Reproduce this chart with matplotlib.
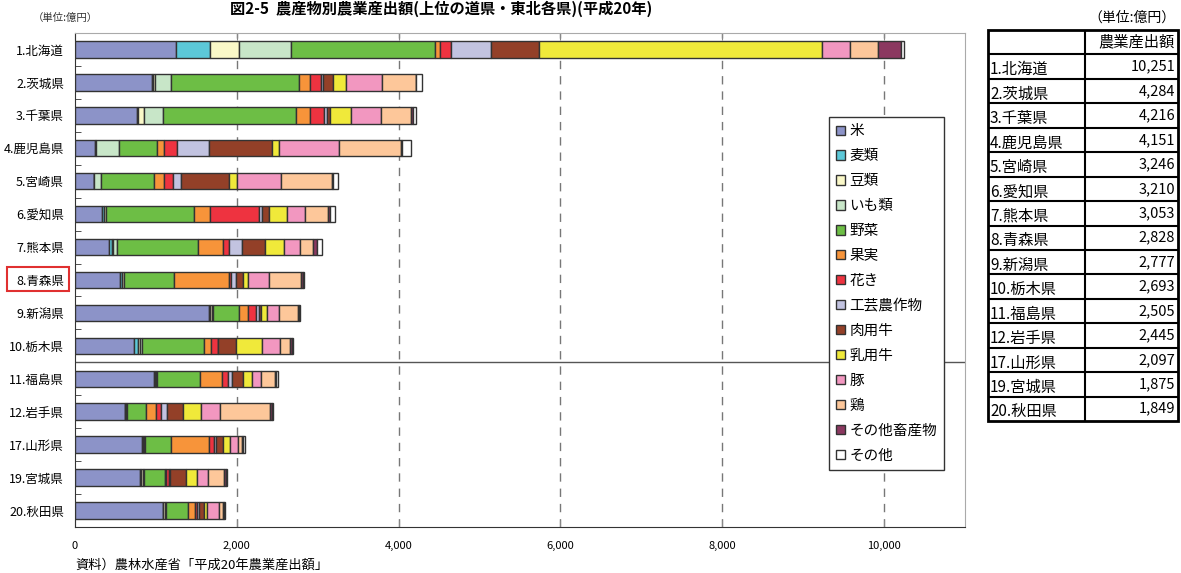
import matplotlib.pyplot as plt
import matplotlib.patches as mpatches
import numpy as np

plt.rcParams['font.family'] = ['Noto Sans CJK JP', 'DejaVu Sans']

# Prefectures (rank.name) and totals, unit: 100 million yen
prefs = ['1.北海道', '2.茨城県', '3.千葉県', '4.鹿児島県', '5.宮崎県',
         '6.愛知県', '7.熊本県', '8.青森県', '9.新潟県', '10.栃木県',
         '11.福島県', '12.岩手県', '17.山形県', '19.宮城県', '20.秋田県']
totals = [10251, 4284, 4216, 4151, 3246, 3210, 3053, 2828, 2777, 2693,
          2505, 2445, 2097, 1875, 1849]

# Output by sector, same order as prefs
kome      = [1251, 946, 769, 253, 229, 331, 426, 562, 1654, 735, 974, 612, 832, 807, 1088]
mugi      = [412, 20, 5, 3, 2, 25, 33, 15, 10, 41, 10, 8, 8, 10, 5]
mame      = [362, 25, 82, 5, 3, 21, 5, 26, 25, 25, 17, 15, 15, 20, 21]
imo       = [639, 194, 227, 288, 83, 5, 49, 5, 14, 24, 15, 10, 10, 11, 15]
yasai     = [1788, 1586, 1650, 462, 663, 1088, 1009, 618, 330, 766, 527, 235, 325, 260, 268]
kajitsu   = [62, 136, 168, 94, 124, 201, 302, 672, 103, 91, 272, 124, 466, 21, 82]
kaki      = [136, 128, 182, 153, 104, 606, 82, 28, 95, 82, 74, 62, 62, 37, 30]
kougei    = [494, 32, 33, 399, 103, 37, 153, 58, 41, 5, 49, 69, 21, 10, 28]
nikuyou   = [588, 116, 41, 775, 593, 87, 288, 94, 30, 227, 136, 206, 90, 198, 53]
nyuuyou   = [3503, 165, 256, 94, 95, 215, 235, 62, 74, 321, 111, 219, 83, 136, 42]
buta      = [346, 441, 371, 742, 544, 230, 198, 260, 143, 222, 108, 226, 106, 131, 143]
niwatori  = [346, 420, 371, 765, 630, 277, 164, 392, 243, 124, 173, 627, 42, 206, 54]
chikusan  = [284, 10, 28, 10, 15, 28, 42, 30, 8, 15, 20, 22, 12, 18, 10]
sonota    = [40, 65, 33, 108, 58, 59, 67, 6, 7, 15, 19, 10, 25, 10, 10]

categories = ['米', '麦類', '豆類', 'いも類', '野菜', '果実', '花き', '工芸農作物',
              '肉用牛', '乳用牛', '豚', '鶏', 'その他畜産物', 'その他']
segments = [kome, mugi, mame, imo, yasai, kajitsu, kaki, kougei,
            nikuyou, nyuuyou, buta, niwatori, chikusan, sonota]
colors = ['#8c93c8', '#5cc8d8', '#faf8c8', '#c8e6c8', '#6dbe45', '#f7943a',
          '#ee3340', '#c2c3e0', '#934028', '#f0e93a', '#f297c0', '#fdc79a',
          '#8b3860', '#ffffff']

W, H = 1181, 573
fig = plt.figure(figsize=(W / 100, H / 100), dpi=100)
ax = fig.add_axes([75 / W, 1 - 527 / H, 890 / W, 494 / H])

y = np.arange(len(prefs))
left = np.zeros(len(prefs))
for vals, color in zip(segments, colors):
    ax.barh(y, vals, left=left, height=0.5, color=color,
            edgecolor='#333333', linewidth=1.0, zorder=3)
    left += np.array(vals)

ax.set_xlim(0, 11000)
ax.set_ylim(len(prefs) - 0.5, -0.5)
ax.set_xticks(np.arange(0, 10001, 2000))
ax.set_xticklabels(['{:,}'.format(v) for v in range(0, 10001, 2000)], fontsize=8)
ax.set_yticks(y)
ax.set_yticklabels(prefs, fontsize=9)
ax.set_yticks(np.arange(-0.5, len(prefs), 1), minor=True)
ax.tick_params(axis='y', which='major', length=0, pad=8)
ax.tick_params(axis='y', which='minor', direction='in', length=4, color='#333333')
ax.tick_params(axis='x', direction='in', top=True, bottom=True, length=5,
               color='#888888', pad=10)

# dashed vertical grid
for xv in range(2000, 10001, 2000):
    ax.axvline(xv, color='#777777', lw=1.0, ls=(0, (6, 5)), zorder=1)

# separator between top 10 and the rest
ax.axhline(9.5, color='#555555', lw=1.0, zorder=2)

ax.spines['left'].set_color('#333333')
ax.spines['bottom'].set_color('#333333')
ax.spines['top'].set_color('#aaaaaa')
ax.spines['right'].set_color('#aaaaaa')

handles = [mpatches.Patch(facecolor=c, edgecolor='#333333', linewidth=1.0, label=n)
           for c, n in zip(colors, categories)]
leg = ax.legend(handles=handles, loc='upper left', bbox_to_anchor=(0.847, 0.830),
                borderaxespad=0, fontsize=10.5, frameon=True, fancybox=False,
                framealpha=1, edgecolor='#333333', handlelength=0.6,
                handleheight=0.6, handletextpad=0.3, labelspacing=0.75,
                borderpad=0.5)
leg.get_frame().set_linewidth(1.0)
leg.set_zorder(5)

# highlight box around Aomori
fig.patches.append(mpatches.Rectangle((7 / W, 1 - 291 / H), 62 / W, 24 / H,
                                      transform=fig.transFigure, fill=False,
                                      edgecolor='#e03030', linewidth=1.5))

fig.text(33 / W, 1 - 18 / H, '（単位:億円）', fontsize=7.5, va='center', color='#333333')
fig.text(230 / W, 1 - 1 / H, '図2-5  農産物別農業産出額(上位の道県・東北各県)(平成20年)',
         fontsize=11, fontweight='bold', va='top')
fig.text(75 / W, 1 - 572 / H, '資料）農林水産省「平成20年農業産出額」',
         fontsize=9.5, va='bottom')

# totals table on the right
tax = fig.add_axes([988 / W, 1 - 421 / H, 190 / W, 391 / H])
tax.set_xlim(0, 190)
tax.set_ylim(16, 0)
tax.axis('off')
tax.hlines(np.arange(1, 16), 0, 190, color='black', lw=1.5)
tax.vlines(97, 0, 16, color='black', lw=1.5)
tax.add_patch(mpatches.Rectangle((0, 0), 190, 16, fill=False, edgecolor='black',
                                 linewidth=2.0, clip_on=False))
tax.text(187, 0.5, '農業産出額', ha='right', va='center', fontsize=11)
for i, (p, t) in enumerate(zip(prefs, totals)):
    tax.text(2, i + 1.97, p, ha='left', va='bottom', fontsize=11)
    tax.text(187, i + 1.5, '{:,}'.format(t), ha='right', va='center', fontsize=10.5)
fig.text(1176 / W, 1 - 18 / H, '（単位:億円）', fontsize=10, ha='right', va='center')

fig.savefig('out.png', dpi=100)
